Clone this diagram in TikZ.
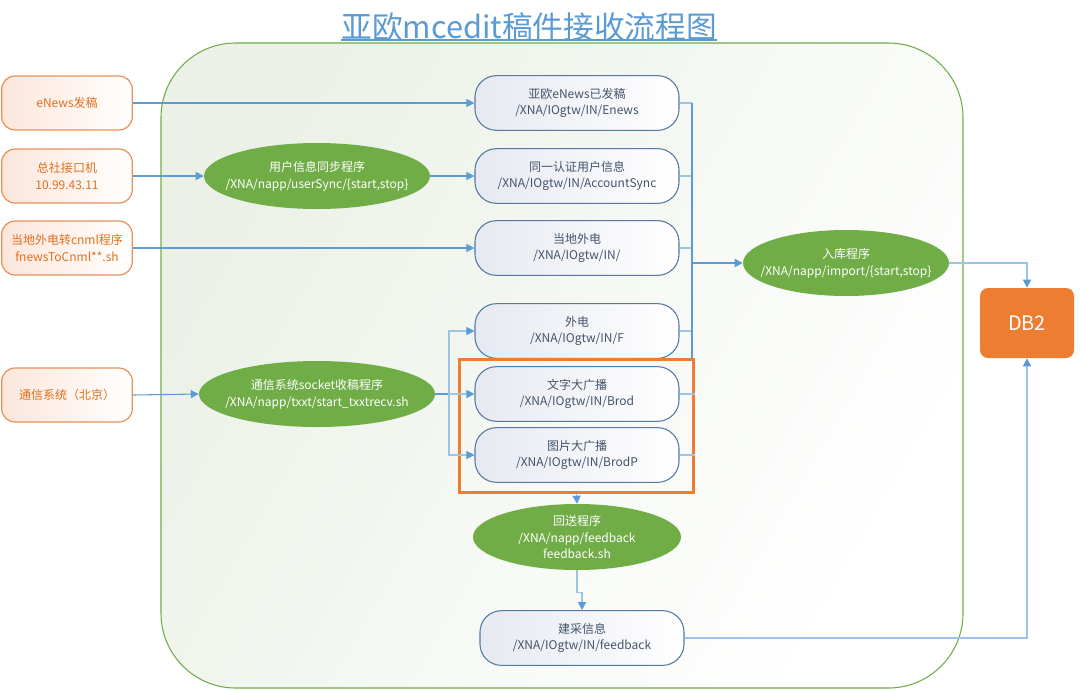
\documentclass[tikz,border=0pt]{standalone}
\usepackage{fontspec}
\setmainfont{Noto Sans CJK SC}
\usetikzlibrary{arrows.meta,shapes.geometric,calc}
\definecolor{ttlblue}{HTML}{5B9BD5}
\definecolor{lnblue}{HTML}{5B9BD5}
\definecolor{lnlight}{HTML}{9DC3E6}
\definecolor{grn}{HTML}{70AD47}
\definecolor{contfill}{HTML}{EBF1E7}
\definecolor{orgline}{HTML}{E8905A}
\definecolor{orgtext}{HTML}{E0701E}
\definecolor{orgfill}{HTML}{FDE6DA}
\definecolor{midline}{HTML}{5679A0}
\definecolor{midtext}{HTML}{44546A}
\definecolor{midfill}{HTML}{E6E9F1}
\definecolor{hlorange}{HTML}{ED7D31}
\definecolor{dbfill}{HTML}{ED7D31}
\tikzset{
  lbl/.style={font=\fontsize{9}{12.5}\selectfont, align=center},
  srcbox/.style={lbl, draw=orgline, line width=0.9pt, text=orgtext,
    left color=orgfill, right color=white, rounded corners=10pt,
    minimum width=98pt, minimum height=40.5pt, inner sep=0pt},
  midbox/.style={lbl, draw=midline, line width=0.8pt, text=midtext,
    left color=midfill, right color=white, rounded corners=16pt,
    minimum width=153pt, minimum height=41pt, inner sep=0pt},
  prog/.style={ellipse, fill=grn, inner sep=0pt, minimum height=49.5pt},
  progtext/.style={lbl, text=white, inner sep=0pt},
  conn/.style={draw=lnblue, line width=0.8pt},
  lconn/.style={draw=lnlight, line width=0.9pt},
  arr/.style={-{Triangle[width=6pt,length=6pt,fill=lnblue,color=lnblue]}},
}
\begin{document}
\begin{tikzpicture}[x=0.75pt,y=-0.75pt]
\useasboundingbox (0,0) rectangle (1080,690);

% container
\path[draw=grn, line width=0.8pt, left color=contfill, right color=white, shading angle=60,
  rounded corners=56pt] (161,43) rectangle (963,688);

% title
\node[text=ttlblue, font=\fontsize{23}{28}\selectfont, inner sep=0pt, anchor=base] (title) at (529,38) {亚欧mcedit稿件接收流程图};
\draw[ttlblue, line width=0.8pt] ($(title.base west)+(0,2)$) coordinate (ulA) -- ($(title.base east)+(0,2)$) coordinate (ulB);

% sources
\node[srcbox] (enewsSrc) at (67,103) {eNews发稿};
\node[srcbox] (zongshe) at (67,176) {总社接口机\\10.99.43.11};
\node[srcbox] (localSrc) at (67,248) {当地外电转cnml程序\\fnewsToCnml**.sh};
\node[srcbox] (txSrc) at (67,395) {通信系统（北京）};

% programs
\node[prog, minimum width=169.5pt,
  label={[progtext, name=usersyncT]center:{用户信息同步程序\\/XNA/napp/userSync/\{start,stop\}}}] (usersync) at (317,176) {};
\node[prog, minimum width=177pt,
  label={[progtext, name=socketT]center:{通信系统socket收稿程序\\/XNA/napp/txxt/start\_txxtrecv.sh}}] (socket) at (317,394) {};
\node[prog, minimum width=154.5pt,
  label={[progtext, name=importT]center:{入库程序\\/XNA/napp/import/\{start,stop\}}}] (import) at (846,263) {};
\node[prog, minimum width=156pt,
  label={[progtext, name=feedbackT]center:{回送程序\\/XNA/napp/feedback\\feedback.sh}}] (feedback) at (577,537) {};

% middle boxes
\node[midbox] (enews) at (577,103) {亚欧eNews已发稿\\/XNA/IOgtw/IN/Enews};
\node[midbox] (acct) at (577,176) {同一认证用户信息\\/XNA/IOgtw/IN/AccountSync};
\node[midbox] (local) at (577,248) {当地外电\\/XNA/IOgtw/IN/};
\node[midbox] (waidian) at (577,331) {外电\\/XNA/IOgtw/IN/F};
\node[midbox] (wenzi) at (577,394) {文字大广播\\/XNA/IOgtw/IN/Brod};
\node[midbox] (tupian) at (577,455) {图片大广播\\/XNA/IOgtw/IN/BrodP};
\node[midbox] (jiancai) at (582,638) {建采信息\\/XNA/IOgtw/IN/feedback};

% highlight frame
\node[draw=hlorange, line width=2.3pt, minimum width=175pt, minimum height=99.5pt, inner sep=0pt] (hl) at (576.5,426) {};

% DB2
\node[fill=dbfill, text=white, rounded corners=6pt, minimum width=70.5pt, minimum height=52.5pt,
  font=\fontsize{15}{17}\selectfont] (db2) at (1027,323) {DB2};

% connectors from sources
\draw[conn, arr] (enewsSrc.east) -- (enews.west);
\draw[conn, arr] (zongshe.east) -- (usersync.west);
\draw[conn, arr] (usersync.east) -- (acct.west);
\draw[conn, arr] (localSrc.east) -- (local.west);
\draw[conn, arr] (txSrc.east) -- (socket.west);

% socket branches
\coordinate (split) at (449,394);
\draw[conn] (socket.east) -- (split);
\draw[lconn, arr] (split) |- (waidian.west);
\draw[lconn, arr] (split) -- (wenzi.west);
\draw[lconn, arr] (split) |- (tupian.west);

% bus on the right
\coordinate (bus) at (692,0);
\draw[lconn] (enews.east) -- (enews.east -| bus);
\draw[lconn] (acct.east) -- (acct.east -| bus);
\draw[lconn] (local.east) -- (local.east -| bus);
\draw[lconn] (waidian.east) -- (waidian.east -| bus);
\draw[lconn] (wenzi.east) -- (wenzi.east -| hl.east);
\draw[lconn] (tupian.east) -- (tupian.east -| hl.east);
\draw[conn, line width=1.1pt] (enews.east -| bus) -- (hl.north -| bus);
\draw[conn, line width=1.3pt, arr] (import.west -| bus) -- (import.west);

% to DB2
\draw[lconn, arr] (import.east) -| (db2.north);
\draw[lconn, arr] (jiancai.east) -| (db2.south);

% feedback chain
\draw[lconn, arr] (hl.south) -- (feedback.north);
\draw[lconn, arr] (feedback.south) -- ++(0,22) -| (jiancai.north);
\end{tikzpicture}
\end{document}
